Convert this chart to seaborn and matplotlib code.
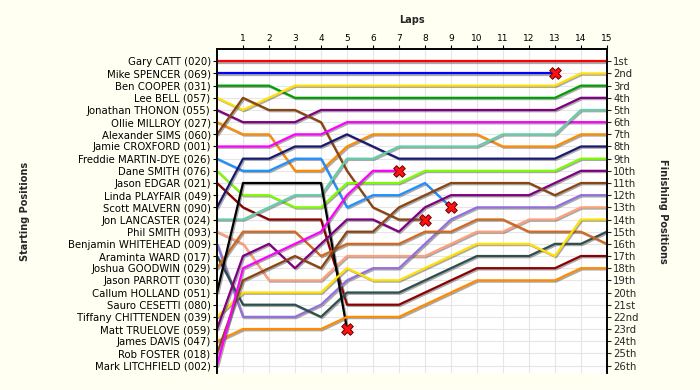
import numpy as np
import pandas as pd
import matplotlib
matplotlib.use('Agg')
import matplotlib.pyplot as plt
import matplotlib.patheffects as pe
import seaborn as sns

# grid order (starting positions 1..26)
names = ['Gary CATT (020)', 'Mike SPENCER (069)', 'Ben COOPER (031)', 'Lee BELL (057)',
         'Jonathan THONON (055)', 'Ollie MILLROY (027)', 'Alexander SIMS (060)',
         'Jamie CROXFORD (001)', 'Freddie MARTIN-DYE (026)', 'Dane SMITH (076)',
         'Jason EDGAR (021)', 'Linda PLAYFAIR (049)', 'Scott MALVERN (090)',
         'Jon LANCASTER (024)', 'Phil SMITH (093)', 'Benjamin WHITEHEAD (009)',
         'Araminta WARD (017)', 'Joshua GOODWIN (029)', 'Jason PARROTT (030)',
         'Callum HOLLAND (051)', 'Sauro CESETTI (080)', 'Tiffany CHITTENDEN (039)',
         'Matt TRUELOVE (059)', 'James DAVIS (047)', 'Rob FOSTER (018)',
         'Mark LITCHFIELD (002)']
ordinals = ['1st', '2nd', '3rd', '4th', '5th', '6th', '7th', '8th', '9th', '10th',
            '11th', '12th', '13th', '14th', '15th', '16th', '17th', '18th', '19th',
            '20th', '21st', '22nd', '23rd', '24th', '25th', '26th']
lap_labels = ['1', '2', '3', '4', '5', '6', '7', '8', '9', '10', '11', '12', '13', '14', '15']

# position at each lap (lap 0 = grid)
catt = [1, 1, 1, 1, 1, 1, 1, 1, 1, 1, 1, 1, 1, 1, 1, 1]
spencer = [2, 2, 2, 2, 2, 2, 2, 2, 2, 2, 2, 2, 2, 2]
cooper = [3, 3, 3, 4, 4, 4, 4, 4, 4, 4, 4, 4, 4, 4, 3, 3]
bell = [4, 5, 4, 3, 3, 3, 3, 3, 3, 3, 3, 3, 3, 3, 2, 2]
thonon = [5, 6, 6, 6, 5, 5, 5, 5, 5, 5, 5, 5, 5, 5, 4, 4]
millroy = [6, 7, 7, 10, 10, 8, 7, 7, 7, 7, 7, 8, 8, 8, 7, 7]
sims = [7, 4, 5, 5, 6, 10, 13, 14, 14]
croxford = [8, 8, 8, 7, 7, 6, 6, 6, 6, 6, 6, 6, 6, 6, 6, 6]
martin_dye = [9, 10, 10, 9, 9, 13, 12, 12, 11, 13]
dane_smith = [10, 12, 12, 13, 13, 11, 11, 11, 10, 10, 10, 10, 10, 10, 9, 9]
edgar = [11, 13, 14, 14, 14, 21, 21, 21, 20, 19, 18, 18, 18, 18, 17, 17]
malvern = [13, 9, 9, 8, 8, 7, 8, 9, 9, 9, 9, 9, 9, 9, 8, 8]
lancaster = [14, 14, 13, 12, 12, 9, 9, 8, 8, 8, 8, 7, 7, 7, 5, 5]
phil_smith = [15, 16, 19, 19, 19, 17, 17, 17, 17, 16, 15, 15, 14, 14, 13, 13]
whitehead = [16, 22, 22, 22, 21, 19, 18, 18, 16, 14, 13, 13, 13, 13, 12, 12]
ward = [17, 21, 21, 21, 22, 20, 20, 20, 19, 18, 17, 17, 17, 16, 16, 15]
goodwin = [18, 15, 15, 15, 17, 16, 16, 16, 15, 15, 14, 14, 15, 15, 15, 16]
holland = [20, 11, 11, 11, 11, 23]
chittenden = [22, 20, 20, 20, 20, 18, 19, 19, 18, 17, 16, 16, 16, 17, 14, 14]
truelove = [23, 17, 16, 18, 16, 14, 14, 15, 13, 12, 12, 12, 12, 11, 10, 10]
davis = [24, 23, 23, 23, 23, 22, 22, 22, 21, 20, 19, 19, 19, 19, 18, 18]
foster = [25, 19, 18, 17, 18, 15, 15, 13, 12, 11, 11, 11, 11, 12, 11, 11]
litchfield = [26, 18, 17, 16, 15, 12, 10, 10]

runs = [
    ('Gary CATT (020)', catt, '#ff0000'),
    ('Mike SPENCER (069)', spencer, '#0000ff'),
    ('Ben COOPER (031)', cooper, '#00a000'),
    ('Lee BELL (057)', bell, '#ffe000'),
    ('Jonathan THONON (055)', thonon, '#800080'),
    ('Ollie MILLROY (027)', millroy, '#ff8c00'),
    ('Alexander SIMS (060)', sims, '#8b4513'),
    ('Jamie CROXFORD (001)', croxford, '#ff00ff'),
    ('Freddie MARTIN-DYE (026)', martin_dye, '#1e90ff'),
    ('Dane SMITH (076)', dane_smith, '#7cfc00'),
    ('Jason EDGAR (021)', edgar, '#8b0000'),
    ('Scott MALVERN (090)', malvern, '#191970'),
    ('Jon LANCASTER (024)', lancaster, '#66cdaa'),
    ('Phil SMITH (093)', phil_smith, '#ffa07a'),
    ('Benjamin WHITEHEAD (009)', whitehead, '#9370db'),
    ('Araminta WARD (017)', ward, '#2f4f4f'),
    ('Joshua GOODWIN (029)', goodwin, '#d2691e'),
    ('Callum HOLLAND (051)', holland, '#000000'),
    ('Tiffany CHITTENDEN (039)', chittenden, '#ffe000'),
    ('Matt TRUELOVE (059)', truelove, '#800080'),
    ('James DAVIS (047)', davis, '#ff8c00'),
    ('Rob FOSTER (018)', foster, '#8b4513'),
    ('Mark LITCHFIELD (002)', litchfield, '#ff00ff'),
]
retired = ['Mike SPENCER (069)', 'Alexander SIMS (060)', 'Freddie MARTIN-DYE (026)',
           'Callum HOLLAND (051)', 'Mark LITCHFIELD (002)']

rows = []
for name, pos, col in runs:
    for lap, p in enumerate(pos):
        rows.append({'driver': name, 'lap': lap, 'pos': p})
df = pd.DataFrame(rows)
palette = {name: col for name, _, col in runs}
last = df.groupby('driver').tail(1)
out = last[last['driver'].isin(retired)]

bg = '#fffff2'
sns.set_style('white')
plt.rcParams['font.family'] = 'DejaVu Sans'
fig = plt.figure(figsize=(7, 3.9), dpi=100, facecolor=bg)
ax = fig.add_axes([0.31, 0.044, 0.557, 0.830])
ax.set_facecolor('white')

sns.lineplot(data=df, x='lap', y='pos', hue='driver', palette=palette,
             hue_order=[r[0] for r in runs], estimator=None, sort=False,
             linewidth=1.6, legend=False, ax=ax, zorder=3)
for ln in ax.lines:
    ln.set_path_effects([pe.SimpleLineShadow(offset=(0.9, -0.9), shadow_color='#444444', alpha=0.45),
                         pe.Normal()])
sns.scatterplot(data=out, x='lap', y='pos', marker='X', s=70, color='#ff1010',
                edgecolor='#700000', linewidth=0.7, legend=False, ax=ax, zorder=6)

ax.set_xlim(0, 15)
ax.set_ylim(26.6, 0)
ax.xaxis.tick_top()
ax.set_xticks(range(1, 16))
ax.set_xticklabels(lap_labels, fontsize=6.5)
ax.xaxis.set_label_position('top')
ax.set_xlabel('Laps', fontsize=7, fontweight='bold', labelpad=8)
ax.set_yticks(range(1, 27))
ax.set_yticklabels(names, fontsize=7.3)
ax.set_ylabel('Starting Positions', fontsize=7, fontweight='bold')
ax.yaxis.set_label_coords(-0.48, 0.5)
ax.tick_params(axis='both', direction='out', length=3, width=0.8, pad=1.5,
               left=True, top=True, bottom=False, colors='black')
ax.grid(True, color='#e6e6e6', linewidth=0.8, zorder=0)
ax.set_axisbelow(True)

ax2 = ax.twinx()
ax2.set_ylim(26.6, 0)
ax2.set_yticks(range(1, 27))
ax2.set_yticklabels(ordinals, fontsize=7.3)
ax2.tick_params(axis='y', direction='out', length=3, width=0.8, pad=1.5, right=True)
ax2.set_ylabel('Finishing Positions', fontsize=7, fontweight='bold', rotation=-90)
ax2.yaxis.set_label_coords(1.156, 0.5)

for a in (ax, ax2):
    for side in ('left', 'right', 'top'):
        a.spines[side].set_visible(True)
        a.spines[side].set_color('black')
        a.spines[side].set_linewidth(1.2)
    a.spines['bottom'].set_visible(False)

fig.savefig('out.png', dpi=100, facecolor=bg)
